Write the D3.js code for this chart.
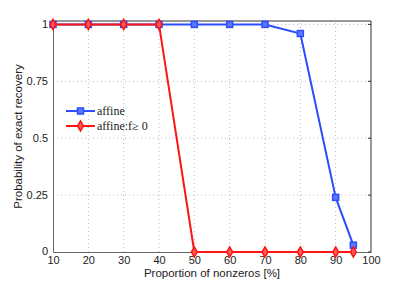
<!DOCTYPE html>
<html>
<head>
<meta charset="utf-8">
<script src="https://cdn.jsdelivr.net/npm/d3@7"></script>
<style>
  body { margin: 0; background: #fff; }
  .tick text { font-family: "Liberation Sans", Arial, sans-serif; font-size: 11px; fill: #222; }
  .lbl { font-family: "Liberation Sans", Arial, sans-serif; font-size: 11.5px; fill: #222; }
  .leg { font-family: "Liberation Serif", "Times New Roman", serif; font-size: 12px; fill: #222; }
</style>
</head>
<body>
<div id="chart"></div>
<script>
const xs = [10, 20, 30, 40, 50, 60, 70, 80, 90, 95];
const affine = [1, 1, 1, 1, 1, 1, 1, 0.96, 0.24, 0.03];
const affinePos = [1, 1, 1, 1, 0, 0, 0, 0, 0, 0];
const xTicks = [10, 20, 30, 40, 50, 60, 70, 80, 90, 100];
const yTicks = [0, 0.25, 0.5, 0.75, 1];
const yTickLabels = ["0", "0.25", "0.5", "0.75", "1"];

const width = 409, height = 284;
const m = {left: 53, right: 38, top: 21, bottom: 32};

const svg = d3.select("#chart").append("svg")
  .attr("width", width).attr("height", height);

const x = d3.scaleLinear().domain([10, 100]).range([m.left, width - m.right]);
const y = d3.scaleLinear().domain([0, 1.015]).range([height - m.bottom, m.top]);

// grid
svg.append("g").selectAll("line").data(xTicks.slice(1, -1)).enter().append("line")
  .attr("x1", d => x(d)).attr("x2", d => x(d))
  .attr("y1", y(0)).attr("y2", y(1.015))
  .attr("stroke", "#bbb").attr("stroke-dasharray", "1,3");
svg.append("g").selectAll("line").data(yTicks.slice(1)).enter().append("line")
  .attr("x1", x(10)).attr("x2", x(100))
  .attr("y1", d => y(d)).attr("y2", d => y(d))
  .attr("stroke", "#bbb").attr("stroke-dasharray", "1,3");

// axes
const xAxis = svg.append("g").attr("transform", `translate(0,${y(0)})`)
  .call(d3.axisBottom(x).tickValues(xTicks).tickSize(0).tickPadding(4));
xAxis.select(".domain").attr("stroke", "#666");
const yAxis = svg.append("g").attr("transform", `translate(${x(10)},0)`)
  .call(d3.axisLeft(y).tickValues(yTicks).tickFormat((d, i) => yTickLabels[i]).tickSize(0).tickPadding(5));
yAxis.select(".domain").attr("stroke", "#666");
// lift the "0" label a bit so it clears the "10" below it
yAxis.selectAll(".tick text").filter(d => d === 0).attr("dy", "0.2em");

// top/right box lines
svg.append("line").attr("x1", x(10)).attr("x2", x(100)).attr("y1", y(1.015)).attr("y2", y(1.015))
  .attr("stroke", "#333");
svg.append("line").attr("x1", x(100)).attr("x2", x(100)).attr("y1", y(1.015)).attr("y2", y(0))
  .attr("stroke", "#333");
// small inner ticks on right
svg.append("g").selectAll("line").data(yTicks).enter().append("line")
  .attr("x1", x(100) - 3).attr("x2", x(100))
  .attr("y1", d => y(d)).attr("y2", d => y(d)).attr("stroke", "#333");

const blue = "#2b4cff", red = "#ff1414";
const line = d3.line().x(d => x(d[0])).y(d => y(d[1]));

const blueData = xs.map((v, i) => [v, affine[i]]);
const redData = xs.map((v, i) => [v, affinePos[i]]);

svg.append("path").datum(blueData).attr("d", line)
  .attr("fill", "none").attr("stroke", blue).attr("stroke-width", 2);
svg.append("g").selectAll("rect").data(blueData).enter().append("rect")
  .attr("x", d => x(d[0]) - 3).attr("y", d => y(d[1]) - 3)
  .attr("width", 6).attr("height", 6)
  .attr("fill", "#5c78ff").attr("stroke", blue).attr("stroke-width", 1.5);

svg.append("path").datum(redData).attr("d", line)
  .attr("fill", "none").attr("stroke", red).attr("stroke-width", 2);
const diamond = d3.symbol().type(d3.symbolDiamond).size(30);
svg.append("g").selectAll("path").data(redData).enter().append("path")
  .attr("d", diamond)
  .attr("transform", d => `translate(${x(d[0])},${y(d[1])})`)
  .attr("fill", "#ff5a5a").attr("stroke", red).attr("stroke-width", 1.5);

// legend
const leg = svg.append("g").attr("transform", "translate(66,111)");
leg.append("line").attr("x1", 0).attr("x2", 29).attr("y1", 0).attr("y2", 0)
  .attr("stroke", blue).attr("stroke-width", 2);
leg.append("rect").attr("x", 11.5).attr("y", -3).attr("width", 6).attr("height", 6)
  .attr("fill", "#5c78ff").attr("stroke", blue).attr("stroke-width", 1.5);
leg.append("text").attr("class", "leg").attr("x", 31).attr("y", 4).text("affine");
leg.append("line").attr("x1", 0).attr("x2", 29).attr("y1", 15).attr("y2", 15)
  .attr("stroke", red).attr("stroke-width", 2);
leg.append("path").attr("d", diamond).attr("transform", "translate(14.5,15)")
  .attr("fill", "#ff5a5a").attr("stroke", red).attr("stroke-width", 1.5);
leg.append("text").attr("class", "leg").attr("x", 31).attr("y", 19).text("affine:f≥ 0");

// axis labels
svg.append("text").attr("class", "lbl").attr("text-anchor", "middle")
  .attr("x", (x(10) + x(100)) / 2).attr("y", 277).text("Proportion of nonzeros [%]");
svg.append("text").attr("class", "lbl").attr("text-anchor", "middle")
  .attr("transform", `translate(22,${(y(0) + y(1.015)) / 2}) rotate(-90)`)
  .text("Probability of exact recovery");
</script>
</body>
</html>
